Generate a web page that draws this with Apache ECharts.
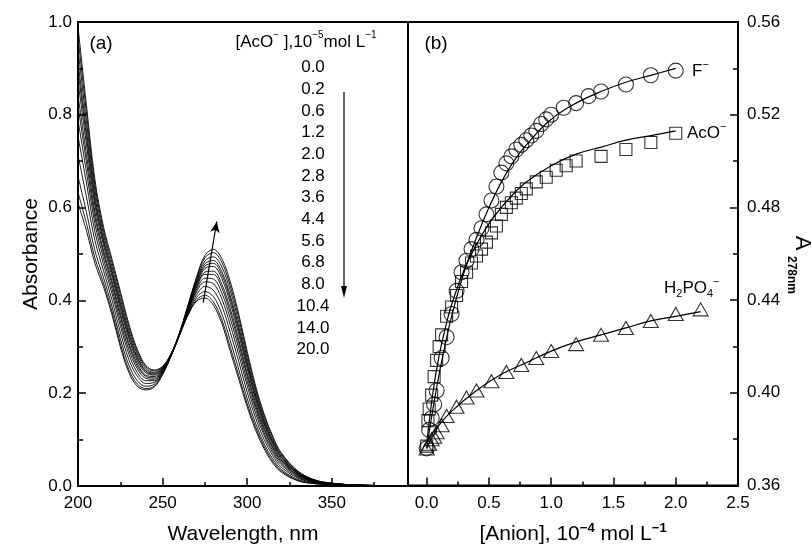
<!DOCTYPE html>
<html><head><meta charset="utf-8">
<script src="https://cdn.jsdelivr.net/npm/echarts@6/dist/echarts.min.js"></script>
<style>html,body{margin:0;padding:0;background:#fff}#c{width:812px;height:550px}</style>
</head><body><div id="c"></div>
<script>
// ---------- Panel (a): UV-vis spectra ----------
const wavelengths = [200,205,210,215,220,225,230,235,240,245,250,255,260,265,270,275,280,285,290,295,300,305,310,315,320,330,340,350,365,395];
const conc00  = [0.610,0.550,0.480,0.430,0.370,0.300,0.245,0.215,0.207,0.213,0.240,0.280,0.325,0.368,0.398,0.405,0.390,0.350,0.290,0.230,0.170,0.120,0.080,0.050,0.030,0.011,0.005,0.003,0.001,0.000];
const conc02  = [0.633,0.566,0.491,0.438,0.377,0.307,0.251,0.220,0.210,0.215,0.241,0.280,0.325,0.369,0.401,0.411,0.397,0.358,0.299,0.238,0.177,0.126,0.085,0.054,0.033,0.012,0.005,0.003,0.001,0.000];
const conc06  = [0.667,0.590,0.507,0.450,0.388,0.318,0.261,0.227,0.215,0.219,0.243,0.281,0.326,0.371,0.406,0.419,0.408,0.371,0.313,0.251,0.188,0.134,0.091,0.059,0.036,0.014,0.006,0.003,0.001,0.000];
const conc12  = [0.713,0.623,0.529,0.465,0.402,0.332,0.273,0.237,0.221,0.223,0.245,0.281,0.326,0.374,0.412,0.430,0.422,0.388,0.331,0.268,0.202,0.146,0.100,0.066,0.041,0.017,0.007,0.004,0.001,0.000];
const conc20  = [0.754,0.653,0.548,0.479,0.416,0.346,0.285,0.245,0.227,0.227,0.247,0.282,0.327,0.376,0.418,0.440,0.436,0.403,0.347,0.283,0.216,0.156,0.109,0.072,0.046,0.019,0.008,0.004,0.001,0.000];
const conc28  = [0.789,0.677,0.565,0.491,0.426,0.356,0.294,0.253,0.232,0.230,0.249,0.282,0.327,0.378,0.422,0.448,0.446,0.416,0.361,0.296,0.226,0.165,0.115,0.077,0.050,0.021,0.009,0.004,0.001,0.000];
const conc36  = [0.819,0.698,0.579,0.502,0.436,0.366,0.303,0.259,0.236,0.233,0.250,0.283,0.328,0.380,0.427,0.456,0.456,0.427,0.373,0.307,0.236,0.172,0.121,0.082,0.053,0.023,0.009,0.005,0.002,0.000];
const conc44  = [0.842,0.715,0.590,0.509,0.443,0.373,0.309,0.264,0.239,0.236,0.251,0.283,0.328,0.381,0.430,0.461,0.463,0.435,0.382,0.315,0.243,0.178,0.126,0.085,0.056,0.024,0.010,0.005,0.002,0.000];
const conc56  = [0.872,0.736,0.604,0.520,0.453,0.383,0.318,0.270,0.244,0.239,0.252,0.283,0.328,0.383,0.434,0.469,0.473,0.447,0.394,0.327,0.253,0.186,0.132,0.090,0.059,0.026,0.011,0.005,0.002,0.000];
const conc68  = [0.895,0.753,0.615,0.528,0.460,0.390,0.324,0.275,0.247,0.241,0.254,0.284,0.329,0.385,0.437,0.474,0.480,0.455,0.403,0.335,0.260,0.191,0.136,0.094,0.062,0.027,0.011,0.005,0.002,0.000];
const conc80  = [0.914,0.766,0.624,0.534,0.466,0.396,0.329,0.279,0.249,0.243,0.254,0.284,0.329,0.386,0.440,0.479,0.486,0.462,0.410,0.342,0.266,0.196,0.140,0.096,0.064,0.028,0.011,0.005,0.002,0.000];
const conc104 = [0.941,0.785,0.637,0.543,0.474,0.404,0.336,0.285,0.253,0.245,0.256,0.284,0.329,0.387,0.443,0.485,0.494,0.472,0.421,0.352,0.274,0.203,0.145,0.100,0.067,0.029,0.012,0.006,0.002,0.000];
const conc140 = [0.967,0.804,0.649,0.552,0.483,0.413,0.344,0.290,0.257,0.248,0.257,0.285,0.330,0.389,0.447,0.492,0.503,0.482,0.431,0.362,0.283,0.209,0.151,0.105,0.070,0.031,0.013,0.006,0.002,0.000];
const conc200 = [0.990,0.820,0.660,0.560,0.490,0.420,0.350,0.295,0.260,0.250,0.258,0.285,0.330,0.390,0.450,0.497,0.510,0.490,0.440,0.370,0.290,0.215,0.155,0.108,0.072,0.032,0.013,0.006,0.002,0.000];
const concLabels = ['0.0','0.2','0.6','1.2','2.0','2.8','3.6','4.4','5.6','6.8','8.0','10.4','14.0','20.0'];
const spectra = [conc00,conc02,conc06,conc12,conc20,conc28,conc36,conc44,conc56,conc68,conc80,conc104,conc140,conc200];
const waveTicks = [200,250,300,350];
const waveMinorTicks = [225,275,325,375];
const absTicksInterval = 0.2;

// ---------- Panel (b): A278 vs [Anion] ----------
const fConc = [0,0.02,0.04,0.06,0.08,0.12,0.16,0.20,0.24,0.28,0.32,0.36,0.40,0.44,0.48,0.52,0.56,0.60,0.64,0.68,0.72,0.76,0.80,0.84,0.88,0.92,0.96,1.0,1.1,1.2,1.3,1.4,1.6,1.8,2.0];
const fAbs  = [0.376,0.384,0.389,0.395,0.401,0.415,0.424,0.434,0.444,0.452,0.457,0.462,0.466,0.471,0.477,0.483,0.489,0.495,0.499,0.502,0.505,0.507,0.509,0.511,0.513,0.516,0.518,0.520,0.523,0.525,0.528,0.530,0.533,0.537,0.539];
const fFitConc = [0,0.05,0.1,0.15,0.2,0.3,0.4,0.5,0.6,0.7,0.8,1.0,1.2,1.4,1.6,1.8,2.0];
const fFitAbs  = [0.376,0.393,0.408,0.421,0.433,0.452,0.467,0.480,0.491,0.500,0.507,0.518,0.525,0.530,0.534,0.537,0.540];

const acoConc = [0,0.01,0.02,0.04,0.06,0.08,0.10,0.12,0.16,0.20,0.24,0.28,0.32,0.36,0.40,0.44,0.48,0.52,0.56,0.60,0.64,0.68,0.72,0.76,0.80,0.88,0.96,1.04,1.12,1.20,1.40,1.60,1.80,2.00];
const acoAbs  = [0.377,0.388,0.393,0.399,0.407,0.414,0.420,0.425,0.433,0.437,0.442,0.448,0.452,0.456,0.459,0.462,0.465,0.469,0.472,0.477,0.480,0.482,0.484,0.486,0.488,0.491,0.493,0.496,0.498,0.500,0.502,0.505,0.508,0.512];
const acoFitConc = [0,0.05,0.1,0.15,0.2,0.3,0.4,0.5,0.6,0.7,0.8,1.0,1.2,1.4,1.6,1.8,2.0];
const acoFitAbs  = [0.378,0.400,0.416,0.428,0.438,0.453,0.464,0.473,0.480,0.486,0.491,0.498,0.503,0.506,0.509,0.511,0.513];

const hpoConc = [0,0.02,0.04,0.06,0.08,0.12,0.16,0.24,0.32,0.40,0.52,0.64,0.76,0.88,1.0,1.2,1.4,1.6,1.8,2.0,2.2];
const hpoAbs  = [0.376,0.378,0.380,0.381,0.383,0.386,0.390,0.394,0.398,0.401,0.405,0.409,0.412,0.415,0.418,0.421,0.425,0.428,0.431,0.434,0.436];
const hpoFitConc = [0,0.1,0.2,0.4,0.6,0.8,1.0,1.2,1.4,1.6,1.8,2.0,2.2];
const hpoFitAbs  = [0.376,0.386,0.392,0.401,0.408,0.413,0.418,0.422,0.425,0.428,0.431,0.433,0.435];

const anionTicks = [0,0.5,1.0,1.5,2.0,2.5];
const anionMinorTicks = [0.25,0.75,1.25,1.75,2.25];

// ---------- chart ----------
const FONT = '"Liberation Sans", Arial, Helvetica, sans-serif';
const zip = (xs, ys) => xs.map((x, i) => [x, ys[i]]);
const chart = echarts.init(document.getElementById('c'), null, {renderer: 'canvas'});

const G0 = {left: 78, top: 22, width: 330, height: 464};
const G1 = {left: 408, top: 22, width: 330, height: 464};

function rich(size, supSize) {
  return {
    n:   {fontSize: size, fontFamily: FONT, color: '#000', lineHeight: size + 6, verticalAlign: 'middle'},
    sup: {fontSize: supSize, fontFamily: FONT, color: '#000', lineHeight: supSize, verticalAlign: 'top'},
    sub: {fontSize: supSize, fontFamily: FONT, color: '#000', lineHeight: supSize, verticalAlign: 'bottom'}
  };
}
function txt(x, y, text, opts) {
  opts = opts || {};
  return {
    type: 'text', x: x, y: y, rotation: opts.rotation || 0, z: 100,
    style: {
      text: text, fill: '#000',
      font: (opts.bold ? 'bold ' : '') + (opts.size || 17) + 'px ' + FONT,
      textAlign: opts.align || 'center', textVerticalAlign: 'middle',
      align: opts.align || 'center', verticalAlign: 'middle',
      rich: opts.rich
    }
  };
}

const axisLineStyle = {color: '#000', width: 2};
const tickStyle = {color: '#000', width: 1.5};

const specSeries = spectra.map((arr, i) => {
  const s = {
    type: 'line', xAxisIndex: 0, yAxisIndex: 0, smooth: 0.35, showSymbol: false, silent: true,
    data: zip(wavelengths, arr),
    lineStyle: {color: '#000', width: 0.9}, z: 3
  };
  if (i === 0) {
    s.markLine = {
      silent: true, symbol: ['none', 'arrow'], symbolSize: [7, 11],
      lineStyle: {color: '#000', width: 1.2, type: 'solid'}, label: {show: false},
      data: [[{coord: [274, 0.395]}, {coord: [282, 0.57]}]]
    };
  }
  return s;
});

const markerStyle = {color: 'rgba(0,0,0,0)', borderColor: '#000', borderWidth: 1.1};
const fitLine = (xs, ys) => ({
  type: 'line', xAxisIndex: 2, yAxisIndex: 1, smooth: 0.4, showSymbol: false, silent: true,
  data: zip(xs, ys), lineStyle: {color: '#000', width: 1.2}, z: 4
});

const graphics = [
  txt(101, 44, '(a)', {size: 19}),
  txt(436, 44, '(b)', {size: 19}),
  txt(306, 42, '{n|[AcO}{sup|−}{n| ],10}{sup|−5}{n|mol L}{sup|−1}', {rich: rich(17, 10)}),
  txt(692, 71, '{n|F}{sup|−}', {rich: rich(17, 11), align: 'left'}),
  txt(687, 133, '{n|AcO}{sup|−}', {rich: rich(17, 11), align: 'left'}),
  txt(664, 288, '{n|H}{sub|2}{n|PO}{sub|4}{sup|−}', {rich: rich(17, 11), align: 'left'}),
  txt(802, 243, 'A', {size: 22, rotation: -Math.PI / 2}),
  txt(791, 275, '278nm', {size: 12, bold: true, rotation: -Math.PI / 2}),
  {type: 'line', shape: {x1: 344, y1: 92, x2: 344, y2: 289}, style: {stroke: '#000', lineWidth: 1.2}, z: 100},
  {type: 'polygon', shape: {points: [[341, 286], [347, 286], [344, 298]]}, style: {fill: '#000'}, z: 100}
];
concLabels.forEach((lab, i) => graphics.push(txt(313, 67.5 + i * 21.7, lab, {size: 17})));

const option = {
  backgroundColor: '#fff',
  animation: false,
  textStyle: {fontFamily: FONT, color: '#000'},
  grid: [
    Object.assign({show: true, borderColor: '#000', borderWidth: 2, backgroundColor: 'transparent'}, G0),
    Object.assign({show: true, borderColor: '#000', borderWidth: 2, backgroundColor: 'transparent'}, G1)
  ],
  xAxis: [
    {type: 'value', gridIndex: 0, min: 200, max: 395,
     name: 'Wavelength, nm', nameLocation: 'middle', nameGap: 38,
     nameTextStyle: {fontSize: 21, fontFamily: FONT, color: '#000'},
     axisLine: {onZero: false, lineStyle: axisLineStyle},
     axisTick: {inside: true, length: 8, lineStyle: tickStyle, customValues: waveTicks},
     axisLabel: {fontSize: 17, fontFamily: FONT, color: '#000', margin: 9, customValues: waveTicks},
     splitLine: {show: false}},
    {type: 'value', gridIndex: 0, min: 200, max: 395, position: 'bottom',
     axisLine: {show: false, onZero: false}, axisLabel: {show: false}, splitLine: {show: false},
     axisTick: {inside: true, length: 4, lineStyle: tickStyle, customValues: waveMinorTicks}},
    {type: 'value', gridIndex: 1, min: -0.15, max: 2.5,
     name: '{n|[Anion], 10}{sup|−4}{n| mol L}{sup|−1}', nameLocation: 'middle', nameGap: 36,
     nameTextStyle: {rich: {
       n: {fontSize: 21, fontFamily: FONT, color: '#000', lineHeight: 26, verticalAlign: 'middle'},
       sup: {fontSize: 13, fontWeight: 'bold', fontFamily: FONT, color: '#000', lineHeight: 13, verticalAlign: 'top'}
     }},
     axisLine: {onZero: false, lineStyle: axisLineStyle},
     axisTick: {inside: true, length: 8, lineStyle: tickStyle, customValues: anionTicks},
     axisLabel: {fontSize: 17, fontFamily: FONT, color: '#000', margin: 9, customValues: anionTicks,
                 formatter: v => Number(v).toFixed(1)},
     splitLine: {show: false}},
    {type: 'value', gridIndex: 1, min: -0.15, max: 2.5, position: 'bottom',
     axisLine: {show: false, onZero: false}, axisLabel: {show: false}, splitLine: {show: false},
     axisTick: {inside: true, length: 4, lineStyle: tickStyle, customValues: anionMinorTicks}}
  ],
  yAxis: [
    {type: 'value', gridIndex: 0, min: 0, max: 1, interval: absTicksInterval,
     name: 'Absorbance', nameLocation: 'middle', nameGap: 36, nameRotate: 90,
     nameTextStyle: {fontSize: 21, fontFamily: FONT, color: '#000'},
     axisLine: {onZero: false, lineStyle: axisLineStyle},
     axisTick: {inside: true, length: 8, lineStyle: tickStyle},
     minorTick: {show: true, splitNumber: 2, length: 5, lineStyle: tickStyle},
     axisLabel: {fontSize: 17, fontFamily: FONT, color: '#000', margin: 6, formatter: v => v.toFixed(1)},
     splitLine: {show: false}, minorSplitLine: {show: false}},
    {type: 'value', gridIndex: 1, min: 0.36, max: 0.56, interval: 0.04, position: 'right',
     axisLine: {onZero: false, lineStyle: axisLineStyle},
     axisTick: {inside: true, length: 8, lineStyle: tickStyle},
     minorTick: {show: true, splitNumber: 2, length: 5, lineStyle: tickStyle},
     axisLabel: {fontSize: 17, fontFamily: FONT, color: '#000', margin: 9, formatter: v => v.toFixed(2)},
     splitLine: {show: false}, minorSplitLine: {show: false}}
  ],
  series: specSeries.concat([
    {type: 'scatter', xAxisIndex: 2, yAxisIndex: 1, symbol: 'rect', symbolSize: 12,
     data: zip(acoConc, acoAbs), itemStyle: markerStyle, silent: true, z: 5},
    {type: 'scatter', xAxisIndex: 2, yAxisIndex: 1, symbol: 'circle', symbolSize: 15,
     data: zip(fConc, fAbs), itemStyle: markerStyle, silent: true, z: 5},
    {type: 'scatter', xAxisIndex: 2, yAxisIndex: 1, symbol: 'triangle', symbolSize: [15, 13],
     data: zip(hpoConc, hpoAbs), itemStyle: markerStyle, silent: true, z: 5},
    fitLine(fFitConc, fFitAbs),
    fitLine(acoFitConc, acoFitAbs),
    fitLine(hpoFitConc, hpoFitAbs)
  ]),
  graphic: graphics
};
chart.setOption(option);
</script>
</body></html>
